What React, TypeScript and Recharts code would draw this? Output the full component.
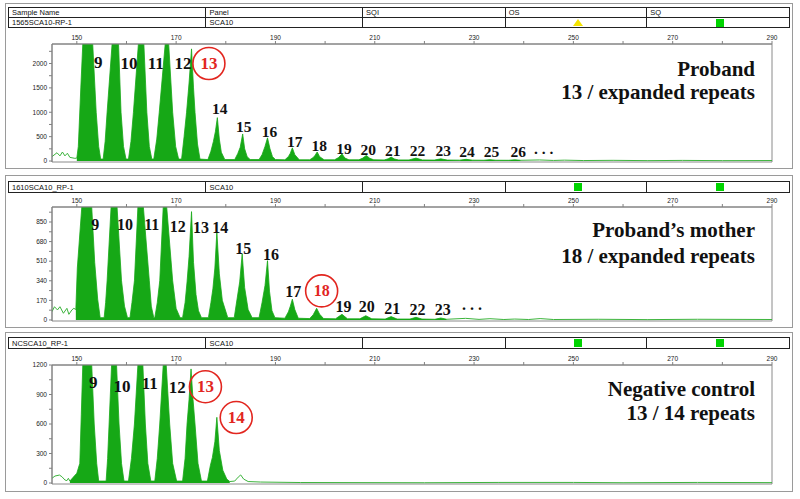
import React from 'react'
import {
  ComposedChart, Area, Line, XAxis, YAxis, ReferenceArea, ReferenceDot,
} from 'recharts'

type Pt = [number, number]
type Tag = { text: string; s: number; v: number; circled?: boolean; size?: number }

const SIZE_TICKS = [150, 160, 170, 180, 190, 200, 210, 220, 230, 240, 250, 260, 270, 280, 290]

// ---- proband (1565SCA10-RP-1), size in bp vs RFU ----
const probandNoise: Pt[] = [
  [145.0, 90], [146.0, 170], [146.6, 105], [147.1, 185], [147.6, 105], [148.1, 160],
  [148.6, 75], [149.6, 55], [150.0, 60],
]
const probandPeaks: Pt[] = [
  [150.0, 60], [150.3, 300], [150.8, 1500], [151.2, 2400], [152.2, 9000], [153.2, 2400], [153.9, 1000], [154.4, 300], [154.8, 40],
  [155.3, 40], [155.7, 400], [156.1, 1000], [157.1, 2400], [157.7, 9000], [158.4, 2400], [158.9, 1000], [159.4, 300], [159.9, 40],
  [160.4, 40], [160.9, 400], [161.4, 1000], [162.4, 2400], [163.0, 9000], [163.5, 2400], [164.1, 1000], [164.6, 300], [165.1, 40],
  [165.5, 40], [166.1, 450], [166.6, 1000], [167.8, 2400], [168.2, 9000], [168.5, 2400], [169.3, 1000], [169.9, 300], [170.5, 40],
  [171.1, 40], [171.6, 500], [172.1, 1000], [172.6, 1600], [173.1, 2300], [173.5, 1500], [173.8, 1000], [174.3, 350], [174.8, 40],
  [176.4, 30], [177.0, 200], [177.5, 400], [177.9, 600], [178.3, 890], [178.7, 450], [179.1, 180], [179.8, 30],
  [181.8, 30], [182.4, 150], [182.9, 280], [183.4, 555], [183.8, 250], [184.3, 90], [184.9, 30],
  [186.7, 30], [187.3, 130], [187.9, 300], [188.4, 475], [188.9, 250], [189.4, 90], [190.0, 30],
  [191.9, 25], [192.6, 90], [193.0, 160], [193.4, 270], [193.9, 130], [194.8, 25],
  [196.9, 25], [197.6, 70], [198.0, 120], [198.4, 185], [198.9, 90], [199.8, 25],
  [201.9, 25], [202.7, 70], [203.4, 145], [204.0, 60], [204.8, 25],
  [206.8, 25], [207.6, 60], [208.3, 115], [209.0, 55], [209.8, 25],
  [211.9, 22], [212.7, 45], [213.3, 80], [214.0, 40], [214.8, 22],
  [216.9, 22], [218.3, 60], [219.6, 22],
  [222.0, 20], [223.3, 45], [224.6, 20],
  [227.1, 18], [228.4, 35], [229.7, 18],
  [232.0, 16], [233.2, 28], [234.4, 16],
  [237.0, 15], [238.2, 25], [239.4, 15],
]
const probandTail: Pt[] = [
  [239.4, 15], [243.2, 22], [246.0, 12], [248.2, 18], [252.0, 10], [258.0, 14],
  [265.0, 8], [272.0, 13], [280.0, 8], [290.0, 10],
]
const probandYTicks = [0, 250, 500, 750, 1000, 1250, 1500, 1750, 2000, 2250]
const probandTags: Tag[] = [
  { text: '9', s: 154.3, v: 2030 }, { text: '10', s: 160.5, v: 1990 },
  { text: '11', s: 165.9, v: 1990 }, { text: '12', s: 171.4, v: 1990 },
  { text: '13', s: 176.6, v: 2000, circled: true },
  { text: '14', s: 178.8, v: 1080, size: 15.5 }, { text: '15', s: 183.6, v: 700, size: 15.5 },
  { text: '16', s: 188.8, v: 600, size: 15.5 }, { text: '17', s: 193.9, v: 410, size: 15.5 },
  { text: '18', s: 198.8, v: 310, size: 15.5 }, { text: '19', s: 203.8, v: 260, size: 15.5 },
  { text: '20', s: 208.7, v: 245, size: 15.5 }, { text: '21', s: 213.6, v: 210, size: 15.5 },
  { text: '22', s: 218.6, v: 210, size: 15.5 }, { text: '23', s: 223.8, v: 225, size: 15.5 },
  { text: '24', s: 228.6, v: 205, size: 15.5 }, { text: '25', s: 233.5, v: 190, size: 15.5 },
  { text: '26', s: 238.9, v: 190, size: 15.5 }, { text: '. . .', s: 244.0, v: 260, size: 15.5 },
]

// ---- proband's mother (1610SCA10_RP-1) ----
const motherNoise: Pt[] = [
  [145.0, 72], [145.5, 115], [146.1, 87], [146.6, 115], [147.3, 58], [148.0, 101],
  [148.4, 49], [149.0, 87], [149.4, 101], [149.8, 90],
]
const motherPeaks: Pt[] = [
  [149.8, 90], [150.1, 450], [151.0, 980], [152.0, 5000], [153.0, 980], [153.6, 500], [154.2, 180], [154.7, 20],
  [155.5, 20], [155.8, 150], [156.1, 340], [156.9, 980], [157.5, 5000], [158.1, 980], [159.0, 340], [159.6, 120], [160.2, 20],
  [160.7, 20], [161.1, 150], [161.6, 340], [162.3, 980], [162.9, 5000], [163.4, 980], [164.6, 340], [165.0, 120], [165.5, 20],
  [165.7, 20], [166.2, 150], [166.7, 340], [167.4, 980], [167.8, 3000], [168.1, 980], [169.3, 340], [170.0, 100], [170.8, 20],
  [171.3, 20], [171.8, 150], [172.2, 330], [172.6, 550], [173.1, 940], [173.5, 500], [174.0, 220], [174.5, 80], [175.1, 20],
  [176.5, 20], [177.0, 150], [177.4, 270], [177.8, 450], [178.2, 765], [178.7, 400], [179.3, 170], [180.4, 20],
  [181.7, 20], [182.3, 190], [182.8, 330], [183.3, 572], [183.8, 280], [184.5, 90], [185.3, 20],
  [186.7, 20], [187.3, 150], [187.9, 300], [188.4, 514], [188.8, 250], [189.3, 80], [189.9, 20],
  [191.9, 15], [192.6, 70], [193.0, 120], [193.4, 180], [193.9, 90], [194.6, 15],
  [196.9, 12], [197.6, 45], [198.3, 101], [198.9, 50], [199.7, 12],
  [202.1, 10], [203.4, 49], [204.5, 10],
  [207.0, 10], [208.2, 37], [209.4, 10],
  [212.1, 8], [213.3, 29], [214.5, 8],
  [217.1, 8], [218.3, 23], [219.5, 8],
  [222.1, 6], [223.3, 17], [224.5, 6],
]
const motherTail: Pt[] = [
  [224.5, 6], [228.3, 14], [231.0, 5], [233.2, 11], [236.0, 4], [238.2, 8], [241.0, 4],
  [243.3, 12], [246.0, 4], [255.0, 6], [265.0, 3], [275.0, 6], [290.0, 4],
]
const motherYTicks = [0, 85, 170, 255, 340, 425, 510, 595, 680, 765, 850, 935]
const motherTags: Tag[] = [
  { text: '9', s: 153.7, v: 824 }, { text: '10', s: 159.7, v: 824 },
  { text: '11', s: 165.1, v: 824 }, { text: '12', s: 170.3, v: 810 },
  { text: '13', s: 175.0, v: 800 }, { text: '14', s: 178.9, v: 800 },
  { text: '15', s: 183.5, v: 624 }, { text: '16', s: 189.1, v: 564 },
  { text: '17', s: 193.6, v: 243 }, { text: '18', s: 199.3, v: 252, circled: true },
  { text: '19', s: 203.7, v: 118 }, { text: '20', s: 208.4, v: 115 },
  { text: '21', s: 213.5, v: 98 }, { text: '22', s: 218.6, v: 90 },
  { text: '23', s: 223.7, v: 90 }, { text: '. . .', s: 229.6, v: 130 },
]

// ---- negative control (NCSCA10_RP-1) ----
const controlNoise: Pt[] = [
  [145.0, 48], [145.6, 71], [146.5, 81], [147.0, 64], [147.6, 31], [148.0, 24], [148.3, 48], [148.6, 20],
]
const controlPeaks: Pt[] = [
  [148.6, 20], [149.3, 60], [150.0, 100], [150.6, 200], [150.9, 700], [151.2, 1200], [152.1, 5000], [153.0, 1200], [153.5, 600], [154.0, 200], [154.4, 20],
  [155.9, 20], [156.2, 250], [156.5, 600], [157.0, 1200], [157.5, 5000], [158.0, 1200], [158.5, 600], [159.0, 200], [159.5, 20],
  [160.4, 20], [161.0, 250], [161.6, 600], [162.3, 1200], [162.8, 5000], [163.3, 1200], [163.8, 600], [164.3, 200], [164.9, 20],
  [165.7, 20], [166.2, 250], [166.7, 600], [167.4, 1200], [167.7, 2000], [168.0, 1200], [168.7, 600], [169.3, 200], [170.1, 20],
  [171.3, 20], [171.8, 250], [172.2, 600], [172.6, 850], [173.0, 1160], [173.4, 850], [173.8, 600], [174.4, 200], [175.1, 20],
  [176.3, 20], [176.9, 180], [177.3, 260], [177.8, 420], [178.2, 668], [178.7, 330], [179.4, 130], [180.2, 40], [180.8, 15],
]
const controlTail: Pt[] = [
  [180.8, 15], [181.8, 20], [182.5, 60], [183.0, 82], [183.6, 40], [184.5, 15], [187.0, 10],
  [195.0, 5], [220.0, 3], [235.0, 6], [250.0, 6], [260.0, 3], [275.0, 6], [290.0, 4],
]
const controlYTicks = [0, 150, 300, 450, 600, 750, 900, 1050, 1200]
const controlTags: Tag[] = [
  { text: '9', s: 153.3, v: 1017 }, { text: '10', s: 159.1, v: 986 },
  { text: '11', s: 164.7, v: 1007 }, { text: '12', s: 170.2, v: 976 },
  { text: '13', s: 175.9, v: 979, circled: true },
  { text: '14', s: 182.1, v: 666, circled: true },
]

const GREEN = '#16a816'
const RED = '#e2261f'
const SERIF = "'Liberation Serif', 'Times New Roman', serif"
const SANS = "'Liberation Sans', Arial, sans-serif"
const COLS = [8, 205, 362, 505, 647, 790]

const toRows = (pts: Pt[]) => pts.map(([s, v]) => ({ s, v }))

function PeakTag({ cx, cy, tag, size }: { cx: number; cy: number; tag: Tag; size: number }) {
  const fs = tag.size ?? size
  return (
    <g>
      {tag.circled && <circle cx={cx} cy={cy} r={16} fill="none" stroke={RED} strokeWidth={1.6} />}
      <text
        x={cx} y={cy} textAnchor="middle" dominantBaseline="central"
        fontFamily={SERIF} fontWeight="bold" fontSize={fs}
        fill={tag.circled ? RED : '#111'}
      >
        {tag.text}
      </text>
    </g>
  )
}

interface TraceProps {
  plotTop: number
  plotBottom: number
  yMin: number
  yMax: number
  yTicks: number[]
  yStep: number
  noise: Pt[]
  peaks: Pt[]
  tail: Pt[]
  tags: Tag[]
  tagSize: number
}

function Trace({ plotTop, plotBottom, yMin, yMax, yTicks, yStep, noise, peaks, tail, tags, tagSize }: TraceProps) {
  const chartTop = plotTop - 14
  const height = plotBottom + 2 - chartTop
  const tick = { fontSize: 6.5, fill: '#222', fontFamily: SANS }
  return (
    <div style={{ position: 'absolute', left: 0, top: chartTop }}>
      <ComposedChart width={800} height={height} margin={{ top: 0, right: 28, bottom: 2, left: 22 }}>
        <XAxis
          dataKey="s" type="number" orientation="top" domain={[145, 290]} allowDataOverflow
          ticks={SIZE_TICKS} interval={0} height={14} tickSize={3} tickMargin={1}
          stroke="#808080" tick={tick}
          tickFormatter={(v: number) => (v % 20 === 10 ? String(v) : '')}
        />
        <YAxis
          type="number" domain={[yMin, yMax]} allowDataOverflow
          ticks={yTicks} interval={0} width={30} tickSize={3} tickMargin={2}
          stroke="#808080" tick={tick}
          tickFormatter={(v: number) => (v % yStep === 0 ? String(v) : '')}
        />
        <ReferenceArea x1={145} x2={290} y1={yMin} y2={yMax} fill="none" stroke="#8a8a8a" ifOverflow="visible" />
        <Area
          data={toRows(peaks)} dataKey="v" type="linear" baseValue={0}
          stroke={GREEN} strokeWidth={0.8} fill={GREEN} fillOpacity={1}
          dot={false} activeDot={false} isAnimationActive={false}
        />
        <Line
          data={toRows(noise)} dataKey="v" type="linear" stroke="#3cb43c" strokeWidth={1}
          dot={false} activeDot={false} isAnimationActive={false}
        />
        <Line
          data={toRows(tail)} dataKey="v" type="linear" stroke="#3cb43c" strokeWidth={1}
          dot={false} activeDot={false} isAnimationActive={false}
        />
        {tags.map((t, i) => (
          <ReferenceDot
            key={i} x={t.s} y={t.v} r={1} ifOverflow="visible"
            shape={(p: any) => <PeakTag cx={p.cx} cy={p.cy} tag={t} size={tagSize} />}
          />
        ))}
      </ComposedChart>
    </div>
  )
}

type Cell = string | 'tri' | 'sq'

function HeaderRow({ top, height, cells }: { top: number; height: number; cells: Cell[] }) {
  return (
    <div style={{
      position: 'absolute', left: COLS[0], top, width: COLS[5] - COLS[0], height,
      border: '1px solid #222', boxSizing: 'border-box', display: 'flex',
      fontFamily: SANS, fontSize: 7.5, color: '#111',
    }}>
      {cells.map((c, i) => (
        <div key={i} style={{
          width: COLS[i + 1] - COLS[i], boxSizing: 'border-box', height: '100%',
          borderLeft: i > 0 ? '1px solid #222' : 'none', paddingLeft: 3,
          display: 'flex', alignItems: 'center',
          justifyContent: c === 'tri' || c === 'sq' ? 'center' : 'flex-start',
          whiteSpace: 'nowrap', overflow: 'hidden',
        }}>
          {c === 'tri' && (
            <svg width={10} height={7}><polygon points="5,0 10,7 0,7" fill="#f4e400" /></svg>
          )}
          {c === 'sq' && <div style={{ width: 8, height: 8, background: '#00d400' }} />}
          {c !== 'tri' && c !== 'sq' && c}
        </div>
      ))}
    </div>
  )
}

function Note({ lines }: { lines: [string, number][] }) {
  return (
    <>
      {lines.map(([t, cy], i) => (
        <div key={i} style={{
          position: 'absolute', right: 45, top: cy - 12, height: 24, lineHeight: '24px',
          fontFamily: SERIF, fontWeight: 'bold', fontSize: 21, color: '#111', whiteSpace: 'nowrap',
        }}>{t}</div>
      ))}
    </>
  )
}

function Frame({ top, bottom }: { top: number; bottom: number }) {
  return (
    <div style={{
      position: 'absolute', left: 5, top, width: 788, height: bottom - top,
      border: '1px solid #9a9a9a', boxSizing: 'border-box',
    }} />
  )
}

export default function App() {
  return (
    <div style={{ position: 'absolute', left: 0, top: 0, width: 800, height: 499, background: '#fff', overflow: 'hidden' }}>
      <Frame top={3} bottom={169} />
      <Frame top={175} bottom={328} />
      <Frame top={332} bottom={492} />

      <HeaderRow top={7} height={11} cells={['Sample Name', 'Panel', 'SQI', 'OS', 'SQ']} />
      <HeaderRow top={17} height={11} cells={['1565SCA10-RP-1', 'SCA10', '', 'tri', 'sq']} />
      <HeaderRow top={181} height={12} cells={['1610SCA10_RP-1', 'SCA10', '', 'sq', 'sq']} />
      <HeaderRow top={337} height={12} cells={['NCSCA10_RP-1', 'SCA10', '', 'sq', 'sq']} />

      <Trace
        plotTop={44} plotBottom={162} yMin={-20} yMax={2400} yTicks={probandYTicks} yStep={500}
        noise={probandNoise} peaks={probandPeaks} tail={probandTail} tags={probandTags} tagSize={17}
      />
      <Trace
        plotTop={207} plotBottom={321} yMin={-9} yMax={980} yTicks={motherYTicks} yStep={170}
        noise={motherNoise} peaks={motherPeaks} tail={motherTail} tags={motherTags} tagSize={16}
      />
      <Trace
        plotTop={365} plotBottom={484} yMin={-10} yMax={1200} yTicks={controlYTicks} yStep={300}
        noise={controlNoise} peaks={controlPeaks} tail={controlTail} tags={controlTags} tagSize={17}
      />

      <Note lines={[['Proband', 69], ['13 / expanded repeats', 92]]} />
      <Note lines={[['Proband\u2019s mother', 230], ['18 / expanded repeats', 256]]} />
      <Note lines={[['Negative control', 389], ['13 / 14 repeats', 413]]} />
    </div>
  )
}
